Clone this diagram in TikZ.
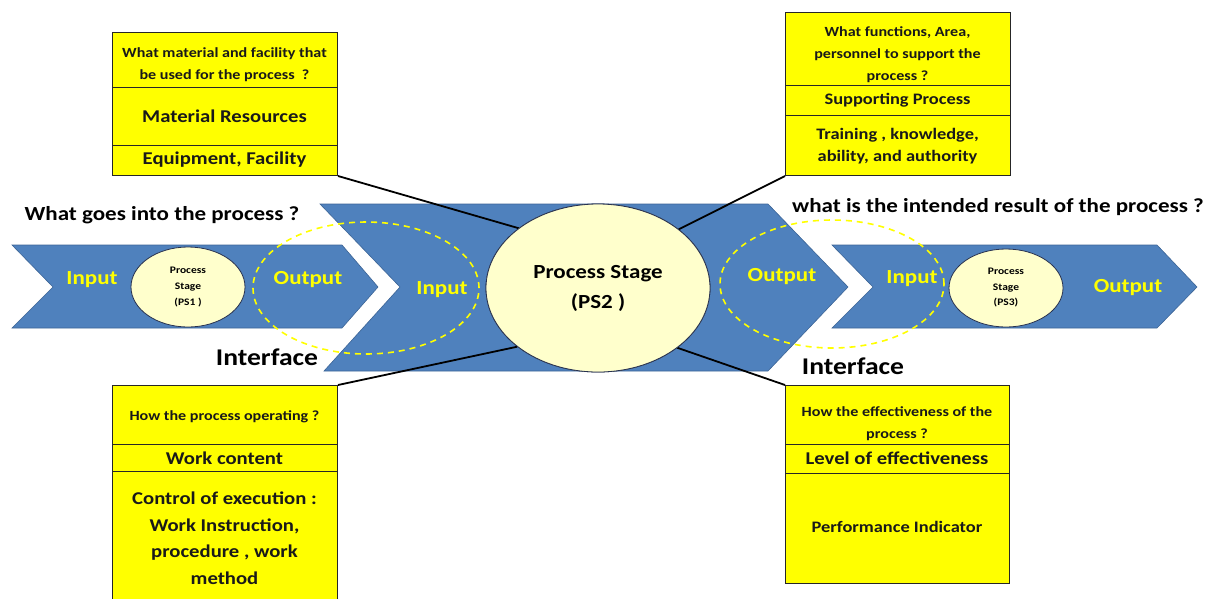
\documentclass[tikz,border=0pt]{standalone}
\usepackage{fontspec}
\setmainfont{Carlito}[FakeStretch=1.15]
\usetikzlibrary{shapes.geometric}
\definecolor{chev}{RGB}{79,129,189}
\definecolor{chevline}{RGB}{60,100,150}
\definecolor{ell}{RGB}{255,255,204}
\definecolor{ellline}{RGB}{40,50,80}
\definecolor{ybox}{RGB}{255,255,0}
\definecolor{ylab}{RGB}{255,255,0}
\newcommand{\fs}[2]{\fontsize{#1}{#2}\selectfont}
\begin{document}
\begin{tikzpicture}[x=1pt,y=-1pt,
  chevron/.style={fill=chev, draw=chevline, line width=0.6pt},
  stage/.style={ellipse, fill=ell, draw=ellline, line width=0.8pt, inner sep=0pt, align=center, font=\bfseries},
  iface/.style={ellipse, draw=ylab, dash pattern=on 6pt off 5pt, line width=1.6pt, inner sep=0pt},
  lab/.style={text=ylab, font=\bfseries\fs{20}{24}},
  head/.style={font=\bfseries\fs{20}{24}, text=black},
  ifl/.style={font=\bfseries\fs{24}{28}, text=black},
  sec/.style={draw=black!85, fill=ybox, line width=1pt, inner sep=0pt, anchor=north west},
  txt/.style={align=center, inner sep=0pt, text=black!90},
  conn/.style={draw=black, line width=1.8pt}
]
\useasboundingbox (0,0) rectangle (1215,598);
\clip (0,0) rectangle (1215,598);

% chevrons
\draw[chevron] (12,245) -- (342,245) -- (378,287) -- (342,328) -- (12,328) -- (53,287) -- cycle;
\draw[chevron] (320,204) -- (768,204) -- (848,287) -- (768,371) -- (324,371) -- (400,287) -- cycle;
\draw[chevron] (832,245) -- (1157,245) -- (1197,287) -- (1157,328) -- (832,328) -- (873,287) -- cycle;

% interface dashed ellipses
\node[iface, minimum width=226pt, minimum height=132pt] (if1) at (366,288) {};
\node[iface, minimum width=224pt, minimum height=128pt] (if2) at (832,284) {};

% boxes: top-left
\node[sec, minimum width=225pt, minimum height=55pt] (tl1) at (112,32) {};
\node[sec, minimum width=225pt, minimum height=58pt] (tl2) at (112,87) {};
\node[sec, minimum width=225pt, minimum height=30pt] (tl3) at (112,145) {};
\node[txt, font=\bfseries\fs{14}{22}] (tl1t) at (224.5,65) {What material and facility that\\be used for the process\ \ ?};
\node[txt, font=\bfseries\fs{18}{22}] (tl2t) at (224.5,116) {Material Resources};
\node[txt, font=\bfseries\fs{18}{22}] (tl3t) at (224.5,160) {Equipment, Facility};

% boxes: top-right
\node[sec, minimum width=225pt, minimum height=73pt] (tr1) at (785,12) {};
\node[sec, minimum width=225pt, minimum height=30pt] (tr2) at (785,85) {};
\node[sec, minimum width=225pt, minimum height=60pt] (tr3) at (785,115) {};
\node[txt, font=\bfseries\fs{14}{22}] (tr1t) at (897.5,55) {What functions, Area,\\personnel to support the\\process ?};
\node[txt, font=\bfseries\fs{16}{20}] (tr2t) at (897.5,100.5) {Supporting Process};
\node[txt, font=\bfseries\fs{16}{22}] (tr3t) at (897.5,146) {Training , knowledge,\\ability, and authority};

% boxes: bottom-left
\node[sec, minimum width=225pt, minimum height=59pt] (bl1) at (112,385) {};
\node[sec, minimum width=225pt, minimum height=27pt] (bl2) at (112,444) {};
\node[sec, minimum width=225pt, minimum height=150pt] (bl3) at (112,471) {};
\node[txt, font=\bfseries\fs{14}{20}] (bl1t) at (224.5,417) {How the process operating ?};
\node[txt, font=\bfseries\fs{18}{22}] (bl2t) at (224.5,458) {Work content};
\node[txt, font=\bfseries\fs{18}{26.5}] (bl3t) at (224.5,538) {Control of execution :\\Work Instruction,\\procedure , work\\method};

% boxes: bottom-right
\node[sec, minimum width=224pt, minimum height=59pt] (br1) at (785,385) {};
\node[sec, minimum width=224pt, minimum height=29pt] (br2) at (785,444) {};
\node[sec, minimum width=224pt, minimum height=110pt] (br3) at (785,473) {};
\node[txt, font=\bfseries\fs{14}{22}] (br1t) at (897,424) {How the effectiveness of the\\process ?};
\node[txt, font=\bfseries\fs{18}{22}] (br2t) at (897,458) {Level of effectiveness};
\node[txt, font=\bfseries\fs{16}{20}] (br3t) at (897,527) {Performance Indicator};

% stage ellipses
\node[stage, minimum width=224pt, minimum height=168pt] (ps2) at (598,288) {};
\draw[conn] (tl3.south east) -- (ps2.143.6);
\draw[conn] (tr3.south west) -- (ps2.36.4);
\draw[conn] (bl1.north east) -- (ps2.216.4);
\draw[conn] (br1.north west) -- (ps2.323.6);
\node[stage, minimum width=224pt, minimum height=168pt, font=\bfseries\fs{20}{30}] (ps2b) at (598,288) {Process Stage\\(PS2 )};
\node[stage, minimum width=114pt, minimum height=80pt, font=\bfseries\fs{10}{16}] (ps1) at (188,287) {Process\\Stage\\(PS1 )};
\node[stage, minimum width=114pt, minimum height=78pt, font=\bfseries\fs{10}{15.5}] (ps3) at (1006,288) {Process\\Stage\\(PS3)};

% chevron labels
\node[lab] (in1) at (92,280) {Input};
\node[lab] (out1) at (308,280) {Output};
\node[lab] (in2) at (442,290) {Input};
\node[lab] (out2) at (782,277) {Output};
\node[lab] (in3) at (912,279) {Input};
\node[lab] (out3) at (1128,288) {Output};

% headings
\node[head] (q1) at (162,215) {What goes into the process ?};
\node[head] (q2) at (998,207) {what is the intended result of the process ?};
\node[ifl] (i1) at (267,357) {Interface};
\node[ifl] (i2) at (853,366) {Interface};
\end{tikzpicture}
\end{document}
